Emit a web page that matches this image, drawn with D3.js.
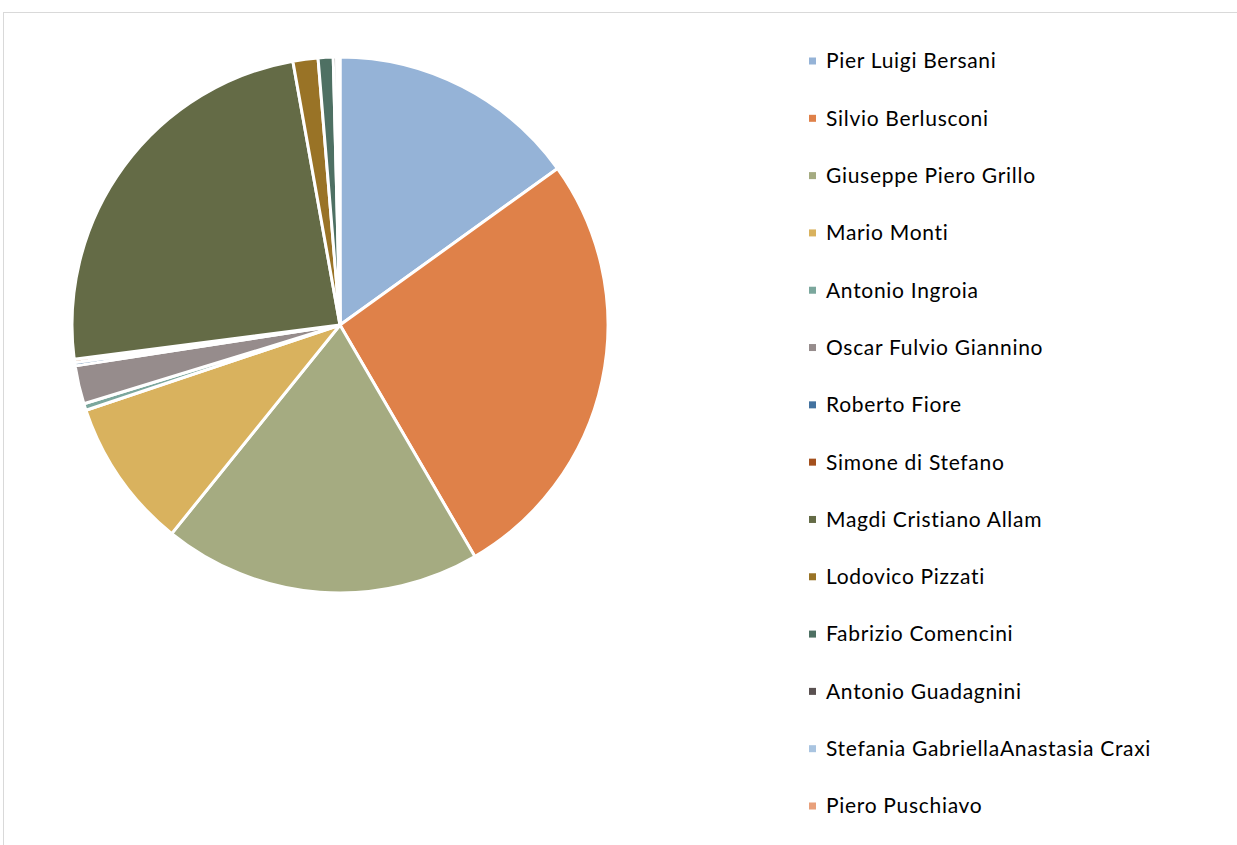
<!DOCTYPE html>
<html>
<head>
<meta charset="utf-8">
<script src="https://cdn.jsdelivr.net/npm/d3@7"></script>
<style>
  html, body { margin: 0; padding: 0; background: #fff; }
  svg { display: block; }
</style>
</head>
<body>
<svg id="chart" width="1237" height="845"></svg>
<script>
// Candidates, in slice order (clockwise from 12 o'clock)
const candidates = [
  "Pier Luigi Bersani",
  "Silvio Berlusconi",
  "Giuseppe Piero Grillo",
  "Mario Monti",
  "Antonio Ingroia",
  "Oscar Fulvio Giannino",
  "Roberto Fiore",
  "Simone di Stefano",
  "Magdi Cristiano Allam",
  "Lodovico Pizzati",
  "Fabrizio Comencini",
  "Antonio Guadagnini",
  "Stefania GabriellaAnastasia Craxi",
  "Piero Puschiavo"
];

// Share of votes (%)
const shares = [15.0, 26.4, 19.1, 9.0, 0.4, 2.3, 0.2, 0.2, 24.1, 1.5, 0.9, 0.2, 0.1, 0.1];

const colors = [
  "#95b3d7", "#df8149", "#a5ab81", "#d9b25e", "#7ba79d", "#968c8c",
  "#43729f", "#a4501d", "#646b46", "#997326", "#4e7063", "#5a5151",
  "#a9c4e0", "#e8a07b"
];

const data = candidates.map((name, i) => ({ name, value: shares[i], color: colors[i] }));

const svg = d3.select("#chart");

// chart area frame
svg.append("rect")
  .attr("x", 3.5).attr("y", 12.5)
  .attr("width", 1260).attr("height", 860)
  .attr("fill", "#fff")
  .attr("stroke", "#d9d9d9")
  .attr("stroke-width", 1);

const cx = 340, cy = 325, radius = 268;

const pie = d3.pie().value(d => d.value).sort(null);
const arc = d3.arc().innerRadius(0).outerRadius(radius);

svg.append("g")
  .attr("transform", `translate(${cx},${cy})`)
  .selectAll("path")
  .data(pie(data))
  .join("path")
  .attr("d", arc)
  .attr("fill", d => d.data.color)
  .attr("stroke", "#fff")
  .attr("stroke-width", 3)
  .attr("stroke-linejoin", "round");

// legend
const legendY = d3.scalePoint()
  .domain(candidates)
  .range([61, 806]);

const legend = svg.append("g")
  .selectAll("g")
  .data(data)
  .join("g")
  .attr("transform", d => `translate(809,${legendY(d.name)})`);

legend.append("rect")
  .attr("x", 0).attr("y", -3.5)
  .attr("width", 7).attr("height", 7)
  .attr("fill", d => d.color);

legend.append("text")
  .attr("x", 17).attr("y", 0)
  .attr("dy", "0.35em")
  .attr("font-family", "Lato, 'Open Sans', sans-serif")
  .attr("font-size", 21)
  .attr("letter-spacing", 0.7)
  .attr("fill", "#000")
  .text(d => d.name);
</script>
</body>
</html>
